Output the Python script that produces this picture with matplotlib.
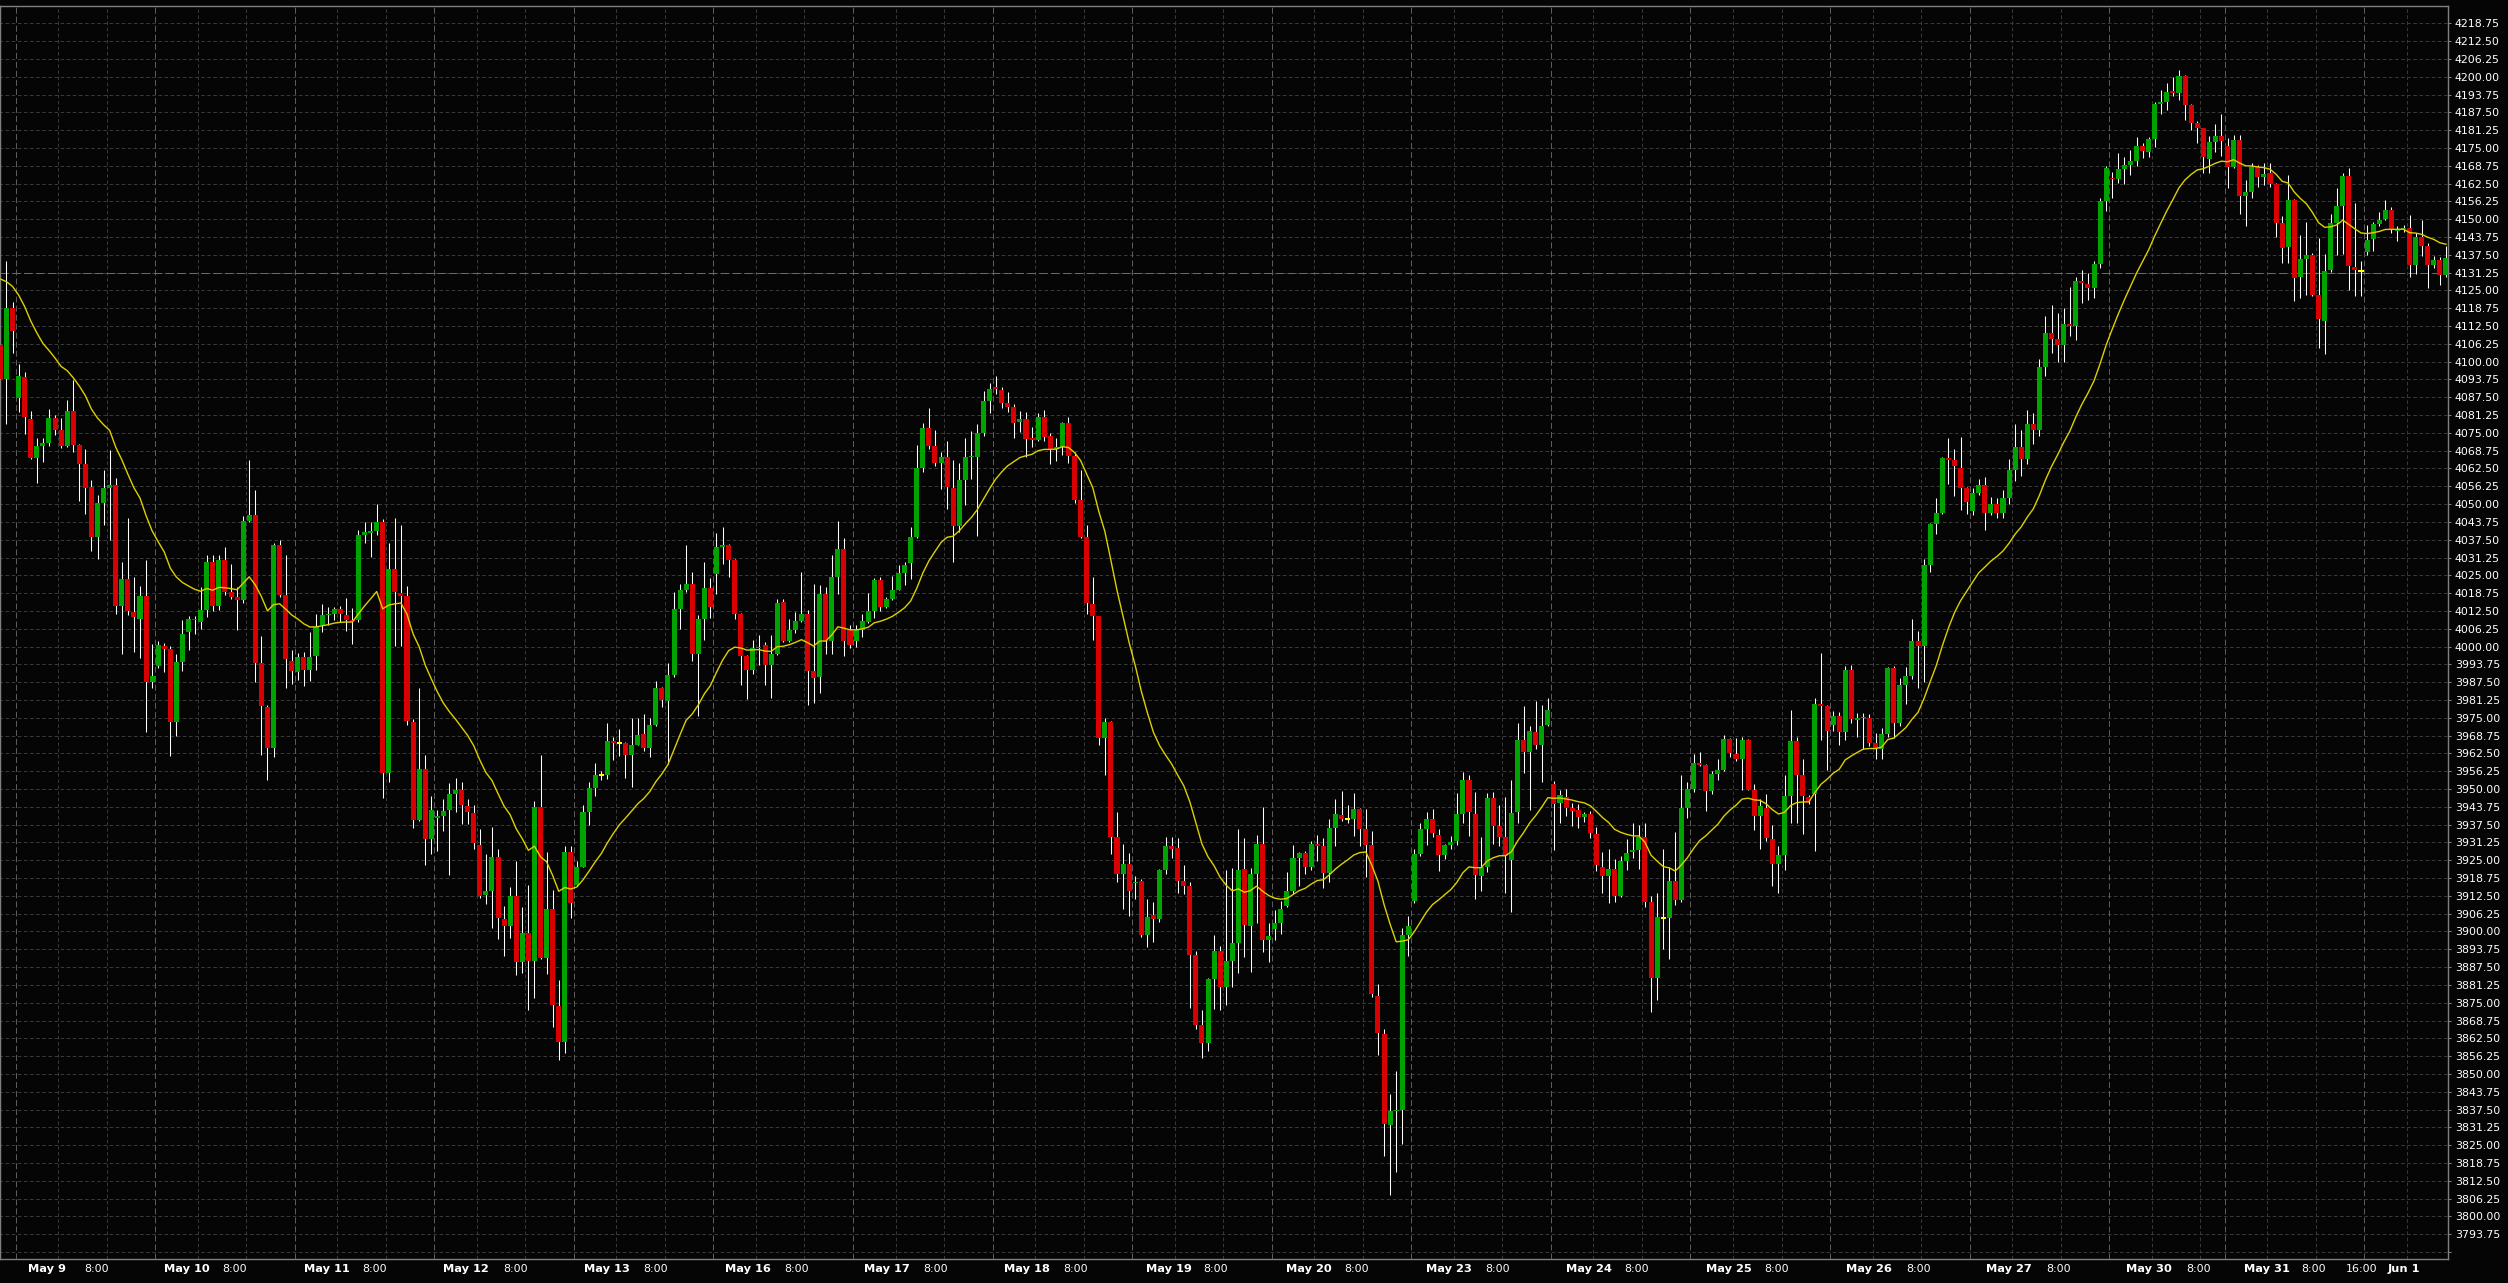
import numpy as np
import pandas as pd
import matplotlib
matplotlib.use("Agg")
import matplotlib.pyplot as plt
import matplotlib.transforms as mtransforms

# Velas horarias (barra 0 = primera vela visible a la izquierda)
opens = [
    4105.8, 4094.0, 4119.0, 4087.2, 4094.6, 4079.9, 4066.3, 4070.5, 4071.5, 4080.3,
    4075.9, 4070.4, 4082.8, 4070.7, 4063.9, 4056.0, 4038.6, 4050.4, 4055.7, 4056.8,
    4014.2, 4023.7, 4012.0, 4009.8, 4017.9, 3987.4, 3993.3, 4000.1, 3999.1, 3973.4,
    3994.7, 4005.0, 4009.8, 4008.7, 4012.9, 4029.6, 4014.2, 4030.5, 4019.2, 4017.5,
    4016.2, 4043.9, 4046.1, 3994.2, 3978.9, 3964.3, 4035.5, 4018.0, 3995.1, 3990.9,
    3996.4, 3991.8, 3996.7, 4007.4, 4011.1, 4011.4, 4013.3, 4011.1, 4009.4, 4009.2,
    4039.0, 4039.9, 4040.4, 4043.8, 3955.6, 4027.2, 4018.8, 4017.9, 3973.4, 3939.1,
    3957.1, 3932.3, 3940.0, 3940.4, 3942.8, 3948.3, 3949.8, 3944.1, 3941.5, 3930.5,
    3912.9, 3914.3, 3926.3, 3904.3, 3901.9, 3912.5, 3889.2, 3899.5, 3889.8, 3943.8,
    3890.8, 3907.9, 3873.9, 3861.2, 3927.8, 3916.4, 3922.8, 3941.9, 3950.2, 3954.8,
    3954.8, 3966.8, 3966.3, 3966.3, 3962.0, 3965.6, 3969.3, 3964.4, 3972.5, 3985.4,
    3981.0, 3989.9, 4013.1, 4019.7, 4021.8, 3997.5, 4009.5, 4020.5, 4025.3, 4035.0,
    4035.5, 4030.5, 4011.5, 3996.7, 3991.8, 3999.4, 4000.4, 3993.4, 3997.5, 4015.5,
    4001.9, 4005.8, 4009.1, 4011.6, 3991.3, 3989.4, 4018.4, 4001.9, 4024.4, 4034.2,
    4006.3, 4001.9, 4005.8, 4008.7, 4012.4, 4023.2, 4014.0, 4016.8, 4020.0, 4025.7,
    4029.2, 4038.5, 4062.7, 4076.7, 4070.5, 4064.6, 4066.4, 4055.5, 4042.2, 4058.4,
    4066.4, 4066.7, 4074.8, 4086.1, 4091.1, 4090.2, 4085.6, 4084.1, 4078.9, 4080.0,
    4073.1, 4072.6, 4080.7, 4073.9, 4069.2, 4070.1, 4078.5, 4067.0, 4051.6, 4038.4,
    4014.8, 4010.7, 3968.0, 3973.5, 3933.2, 3920.2, 3923.7, 3916.9, 3917.8, 3898.7,
    3905.7, 3904.3, 3921.5, 3929.9, 3929.3, 3917.8, 3915.9, 3891.8, 3867.3, 3860.7,
    3883.4, 3893.1, 3880.6, 3889.5, 3896.0, 3921.9, 3902.0, 3920.0, 3930.8, 3897.0,
    3900.7, 3902.9, 3908.9, 3914.1, 3925.8, 3927.5, 3922.8, 3930.8, 3929.9, 3920.6,
    3936.4, 3941.0, 3939.5, 3939.5, 3942.9, 3935.8, 3930.4, 3877.5, 3863.9, 3832.0,
    3837.0, 3837.5, 3898.7, 3910.7, 3927.1, 3935.8, 3939.5, 3934.0, 3926.7, 3930.5,
    3931.7, 3941.4, 3953.1, 3941.4, 3919.6, 3922.5, 3946.8, 3936.9, 3933.2, 3925.0,
    3941.8, 3967.2, 3963.0, 3970.0, 3965.5, 3972.5, 3951.8, 3945.2, 3947.3, 3943.2,
    3942.8, 3940.2, 3941.2, 3934.1, 3922.5, 3919.6, 3922.0, 3912.5, 3924.9, 3927.9,
    3928.6, 3933.2, 3910.4, 3883.5, 3904.6, 3904.6, 3917.8, 3910.9, 3943.5, 3950.1,
    3959.2, 3958.6, 3949.3, 3955.1, 3956.8, 3967.7, 3962.2, 3960.4, 3967.2, 3949.8,
    3940.4, 3943.5, 3932.4, 3923.8, 3926.9, 3947.6, 3966.9, 3954.8, 3947.3, 3948.1,
    3979.9, 3979.1, 3972.6, 3975.5, 3970.0, 3991.9, 3974.3, 3974.9, 3975.1, 3966.0,
    3964.2, 3969.2, 3992.5, 3973.3, 3986.6, 3989.5, 4001.9, 4000.3, 4028.5, 4042.9,
    4047.0, 4066.1, 4065.6, 4062.7, 4055.8, 4047.5, 4053.8, 4056.6, 4047.0, 4050.0,
    4047.0, 4052.0, 4062.0, 4070.0, 4066.0, 4078.0, 4076.0, 4098.0, 4110.0, 4108.0,
    4106.0, 4113.2, 4112.6, 4128.3, 4127.3, 4126.0, 4134.3, 4156.4, 4164.6, 4164.1,
    4167.6, 4169.0, 4170.4, 4175.7, 4173.7, 4178.1, 4190.4, 4191.0, 4195.0, 4194.4,
    4200.3, 4190.1, 4183.6, 4181.9, 4171.1, 4177.1, 4179.2, 4175.7, 4168.2, 4177.8,
    4158.3, 4159.6, 4168.2, 4164.7, 4166.1, 4162.4, 4148.8, 4140.4, 4156.9, 4129.8,
    4136.0, 4137.4, 4123.4, 4114.4, 4132.2, 4148.6, 4154.8, 4165.2, 4133.1, 4131.8,
    4138.6, 4143.0, 4148.3, 4149.9, 4153.2, 4145.9, 4146.6, 4146.8, 4133.9, 4143.6,
    4140.6, 4133.9, 4135.7, 4130.4,
]
highs = [
    4112.2, 4135.2, 4120.8, 4099.2, 4096.4, 4082.6, 4073.1, 4073.1, 4083.4, 4081.2,
    4080.1, 4086.7, 4093.7, 4071.0, 4069.4, 4058.4, 4053.3, 4062.1, 4069.1, 4059.2,
    4029.6, 4045.2, 4024.5, 4021.2, 4030.3, 4001.0, 4002.1, 4001.2, 4000.1, 3997.3,
    4009.2, 4010.7, 4010.7, 4021.0, 4032.2, 4032.2, 4032.2, 4034.9, 4029.0, 4020.8,
    4045.9, 4065.4, 4054.9, 4003.7, 3979.5, 4036.4, 4037.3, 4032.2, 3998.8, 3997.9,
    3998.2, 4005.2, 4011.3, 4015.1, 4013.8, 4013.8, 4014.4, 4017.1, 4013.5, 4041.0,
    4043.8, 4043.8, 4050.2, 4044.7, 4036.4, 4045.2, 4042.5, 4021.2, 3974.7, 3985.4,
    3961.9, 3947.4, 3942.8, 3946.5, 3952.0, 3953.8, 3952.3, 3946.5, 3944.3, 3936.0,
    3927.2, 3936.7, 3929.0, 3908.8, 3915.6, 3924.9, 3908.5, 3916.4, 3945.9, 3962.0,
    3927.8, 3914.5, 3883.1, 3930.1, 3930.1, 3924.9, 3944.3, 3952.3, 3959.3, 3956.4,
    3973.3, 3968.1, 3971.2, 3966.5, 3974.9, 3974.9, 3976.5, 3974.9, 3987.8, 3985.7,
    3994.2, 4019.2, 4022.0, 4035.8, 4026.0, 4011.2, 4029.7, 4024.0, 4039.7, 4041.8,
    4036.1, 4030.8, 4011.8, 3997.0, 4002.3, 4004.2, 4001.5, 4004.2, 4016.8, 4016.8,
    4009.5, 4012.0, 4026.1, 4012.8, 4022.0, 4021.6, 4020.8, 4032.1, 4043.9, 4038.1,
    4007.4, 4007.4, 4011.6, 4018.9, 4024.2, 4024.4, 4017.3, 4024.8, 4028.6, 4029.7,
    4041.8, 4070.8, 4078.4, 4083.7, 4076.1, 4068.4, 4072.1, 4065.4, 4064.3, 4073.2,
    4075.6, 4078.0, 4089.6, 4092.5, 4094.9, 4091.0, 4089.3, 4085.0, 4082.8, 4082.2,
    4077.0, 4081.8, 4083.1, 4074.8, 4073.3, 4078.7, 4080.7, 4068.3, 4061.8, 4042.8,
    4024.5, 4010.9, 3975.0, 3973.7, 3941.9, 3930.8, 3927.5, 3919.6, 3918.3, 3911.3,
    3910.4, 3921.9, 3933.2, 3933.2, 3932.7, 3923.4, 3917.2, 3893.3, 3872.3, 3883.8,
    3898.7, 3894.9, 3921.5, 3922.4, 3935.8, 3932.7, 3922.4, 3934.0, 3943.8, 3902.9,
    3907.6, 3910.7, 3921.0, 3930.2, 3928.0, 3928.4, 3931.7, 3934.0, 3932.7, 3939.5,
    3946.6, 3949.4, 3944.4, 3948.5, 3943.2, 3942.9, 3935.4, 3881.6, 3865.8, 3842.9,
    3850.9, 3901.1, 3905.3, 3928.9, 3938.2, 3941.9, 3942.9, 3935.8, 3930.8, 3933.6,
    3948.5, 3955.9, 3954.9, 3948.8, 3933.2, 3948.5, 3949.0, 3944.5, 3947.3, 3953.1,
    3973.3, 3979.1, 3972.2, 3980.8, 3979.6, 3982.1, 3952.8, 3949.5, 3950.1, 3945.2,
    3944.8, 3941.8, 3942.4, 3936.5, 3927.9, 3929.1, 3925.3, 3926.6, 3932.4, 3938.2,
    3937.4, 3938.2, 3912.5, 3913.4, 3929.1, 3922.5, 3934.9, 3954.8, 3952.3, 3962.2,
    3963.0, 3958.8, 3956.4, 3960.6, 3968.8, 3968.0, 3968.0, 3968.3, 3967.7, 3951.8,
    3946.5, 3948.1, 3937.4, 3929.9, 3954.8, 3977.6, 3968.3, 3960.6, 3947.8, 3982.1,
    3997.8, 3979.6, 3977.5, 3977.1, 3993.2, 3993.7, 3976.6, 3976.6, 3976.3, 3969.7,
    3971.3, 3992.9, 3993.2, 3989.0, 3992.9, 4009.8, 4005.3, 4030.6, 4043.4, 4052.2,
    4066.6, 4073.2, 4069.4, 4073.5, 4056.0, 4055.8, 4058.8, 4059.4, 4052.5, 4052.2,
    4055.0, 4066.0, 4078.0, 4076.0, 4083.0, 4082.0, 4101.0, 4116.0, 4120.0, 4117.0,
    4118.7, 4126.3, 4129.8, 4132.2, 4131.0, 4135.4, 4157.3, 4168.7, 4166.7, 4173.1,
    4171.7, 4174.3, 4178.7, 4176.9, 4179.0, 4191.0, 4195.3, 4197.7, 4200.0, 4202.4,
    4200.6, 4190.3, 4184.6, 4182.1, 4179.3, 4183.4, 4186.9, 4178.4, 4179.6, 4179.6,
    4163.8, 4169.6, 4169.0, 4169.6, 4169.6, 4162.8, 4151.1, 4165.5, 4157.1, 4144.5,
    4149.1, 4138.0, 4143.3, 4137.8, 4151.8, 4160.8, 4166.3, 4167.9, 4155.6, 4135.4,
    4148.0, 4149.1, 4152.6, 4156.7, 4154.4, 4147.6, 4148.0, 4151.5, 4145.0, 4149.7,
    4141.5, 4137.1, 4136.8, 4140.6,
]
lows = [
    4082.3, 4078.1, 4102.9, 4082.3, 4074.6, 4065.8, 4057.5, 4064.9, 4070.4, 4074.4,
    4069.8, 4070.0, 4068.3, 4051.1, 4046.5, 4033.7, 4030.9, 4042.5, 4037.3, 4011.3,
    3997.3, 4011.1, 3998.0, 3996.0, 3969.9, 3985.4, 3992.4, 3990.9, 3961.7, 3968.5,
    3991.4, 3998.8, 4004.3, 4006.1, 4010.2, 4012.5, 4012.9, 4018.1, 4016.8, 4005.9,
    4015.3, 4043.8, 3987.6, 3962.1, 3953.3, 3961.2, 4017.5, 3985.4, 3986.8, 3988.3,
    3986.3, 3987.8, 3991.8, 4005.2, 4007.4, 4009.2, 4008.5, 4005.6, 4001.0, 4008.5,
    4036.4, 4031.3, 4039.2, 3947.0, 3952.3, 4000.1, 4000.2, 3972.5, 3936.4, 3938.8,
    3923.5, 3927.2, 3928.1, 3935.1, 3919.9, 3941.9, 3937.7, 3937.8, 3929.0, 3911.6,
    3909.8, 3901.1, 3897.3, 3891.4, 3897.6, 3884.7, 3885.5, 3872.6, 3876.6, 3890.3,
    3885.0, 3866.6, 3854.9, 3857.3, 3904.8, 3916.1, 3922.5, 3937.5, 3947.5, 3953.1,
    3953.6, 3960.1, 3961.7, 3953.9, 3950.7, 3965.4, 3963.3, 3961.2, 3972.0, 3978.9,
    3958.8, 3989.4, 4006.3, 4019.2, 3995.0, 3975.7, 4002.3, 4010.0, 4018.4, 4028.9,
    4024.5, 4009.5, 3986.5, 3981.7, 3990.2, 3993.4, 3986.5, 3982.1, 3997.2, 4001.6,
    4001.5, 4004.7, 4008.7, 3979.4, 3980.1, 3983.8, 3997.5, 3997.5, 4018.4, 3996.7,
    3999.4, 3999.9, 4003.4, 4008.4, 4010.0, 4012.4, 4013.6, 4016.5, 4019.7, 4021.6,
    4023.6, 4038.2, 4061.1, 4069.2, 4063.5, 4055.2, 4048.2, 4029.7, 4040.2, 4049.8,
    4058.7, 4038.9, 4074.0, 4082.1, 4088.7, 4083.7, 4082.2, 4073.3, 4075.3, 4066.4,
    4070.1, 4072.0, 4072.0, 4064.0, 4065.1, 4067.4, 4064.6, 4050.3, 4038.0, 4011.6,
    4002.3, 3965.5, 3954.9, 3927.1, 3917.2, 3907.9, 3905.3, 3911.3, 3897.9, 3894.6,
    3896.4, 3903.5, 3920.2, 3925.8, 3913.5, 3913.2, 3873.2, 3865.8, 3855.5, 3857.9,
    3872.7, 3872.3, 3874.1, 3880.6, 3885.3, 3890.9, 3885.7, 3902.9, 3892.7, 3889.4,
    3897.0, 3899.2, 3908.5, 3913.2, 3915.9, 3920.0, 3921.5, 3924.7, 3915.4, 3917.2,
    3929.9, 3938.8, 3938.2, 3933.6, 3929.9, 3919.1, 3876.9, 3856.5, 3821.2, 3807.6,
    3815.6, 3825.5, 3891.4, 3910.0, 3926.5, 3930.2, 3933.2, 3921.1, 3925.3, 3928.9,
    3930.2, 3938.2, 3933.6, 3911.3, 3914.2, 3920.8, 3930.7, 3929.9, 3913.4, 3906.7,
    3937.9, 3955.6, 3942.8, 3963.9, 3952.3, 3972.2, 3928.6, 3938.2, 3940.7, 3936.9,
    3936.2, 3938.5, 3932.9, 3921.3, 3913.4, 3910.0, 3910.4, 3912.0, 3921.6, 3925.8,
    3922.0, 3908.7, 3871.9, 3876.1, 3893.8, 3890.2, 3909.2, 3910.4, 3939.8, 3949.0,
    3958.0, 3942.4, 3948.1, 3953.1, 3956.4, 3961.1, 3959.7, 3949.5, 3949.5, 3935.7,
    3929.1, 3931.6, 3915.8, 3913.4, 3921.6, 3937.9, 3937.9, 3934.1, 3944.8, 3928.3,
    3967.2, 3956.7, 3970.5, 3965.5, 3967.2, 3973.0, 3968.3, 3963.9, 3965.2, 3960.6,
    3960.6, 3968.3, 3968.0, 3972.2, 3979.9, 3988.7, 3985.4, 3987.6, 4026.3, 4039.6,
    4046.7, 4057.1, 4052.8, 4047.8, 4046.7, 4046.3, 4053.3, 4040.9, 4046.2, 4045.0,
    4045.0, 4050.0, 4058.0, 4060.0, 4064.0, 4071.0, 4074.0, 4095.0, 4103.0, 4100.0,
    4100.0, 4109.0, 4107.6, 4120.7, 4121.6, 4122.5, 4132.8, 4153.0, 4157.3, 4162.6,
    4162.4, 4165.5, 4168.5, 4171.4, 4171.9, 4175.5, 4186.8, 4188.3, 4193.2, 4191.8,
    4184.8, 4181.3, 4176.9, 4166.3, 4166.3, 4173.7, 4172.2, 4161.1, 4167.9, 4151.8,
    4147.7, 4157.3, 4161.4, 4162.0, 4161.4, 4143.6, 4134.5, 4134.5, 4121.4, 4122.5,
    4123.4, 4123.2, 4104.9, 4102.6, 4131.5, 4137.4, 4137.8, 4125.2, 4123.2, 4123.2,
    4137.4, 4139.0, 4147.6, 4149.7, 4145.3, 4142.5, 4145.6, 4129.8, 4130.8, 4137.1,
    4125.8, 4132.8, 4126.9, 4129.8,
]
closes = [
    4094.0, 4119.0, 4110.7, 4094.8, 4080.5, 4066.3, 4070.5, 4071.5, 4080.3, 4075.9,
    4070.4, 4082.8, 4070.7, 4063.9, 4055.7, 4038.6, 4050.4, 4055.7, 4056.8, 4014.2,
    4023.7, 4012.4, 4010.2, 4017.9, 3987.4, 3989.6, 4000.6, 3999.1, 3973.4, 3994.7,
    4004.5, 4009.6, 4009.2, 4012.7, 4029.6, 4014.2, 4030.3, 4019.2, 4017.5, 4016.2,
    4043.9, 4046.1, 3994.2, 3979.3, 3964.3, 4035.5, 4018.0, 3995.5, 3991.4, 3996.4,
    3991.8, 3996.4, 4007.0, 4011.1, 4011.4, 4013.3, 4011.4, 4009.4, 4008.9, 4039.0,
    4040.1, 4040.4, 4043.8, 3955.6, 4027.2, 4019.0, 4017.9, 3974.0, 3939.1, 3957.1,
    3932.3, 3942.8, 3940.6, 3942.4, 3948.3, 3949.8, 3944.3, 3941.9, 3930.9, 3912.5,
    3914.3, 3926.3, 3904.6, 3901.9, 3912.5, 3889.2, 3899.5, 3889.8, 3943.8, 3890.8,
    3907.9, 3874.2, 3861.2, 3927.8, 3910.1, 3922.5, 3941.9, 3950.2, 3954.8, 3954.8,
    3966.8, 3966.3, 3966.3, 3962.0, 3965.6, 3968.8, 3964.4, 3972.5, 3985.4, 3981.3,
    3989.9, 4013.1, 4019.7, 4021.8, 3997.5, 4009.5, 4020.5, 4014.0, 4035.0, 4035.5,
    4030.5, 4011.5, 3996.7, 3991.8, 3999.4, 3999.9, 3993.4, 3997.5, 4015.2, 4001.9,
    4005.8, 4009.1, 4011.6, 3991.3, 3989.1, 4018.4, 4001.9, 4024.4, 4034.2, 4001.9,
    4000.4, 4005.8, 4009.1, 4012.4, 4023.2, 4014.0, 4016.8, 4020.0, 4025.7, 4028.6,
    4038.5, 4062.7, 4076.7, 4070.5, 4064.6, 4066.7, 4055.9, 4042.2, 4058.4, 4066.4,
    4066.7, 4074.8, 4086.1, 4090.3, 4090.4, 4085.6, 4084.1, 4078.5, 4080.0, 4072.9,
    4072.4, 4080.7, 4073.5, 4069.2, 4070.1, 4078.5, 4067.0, 4051.6, 4038.4, 4015.3,
    4010.7, 3968.0, 3973.5, 3933.2, 3920.2, 3923.7, 3914.1, 3917.4, 3898.7, 3905.2,
    3904.3, 3921.5, 3929.9, 3928.9, 3917.8, 3915.9, 3891.8, 3867.3, 3860.7, 3883.4,
    3893.1, 3880.6, 3889.5, 3896.0, 3921.5, 3902.4, 3920.0, 3930.8, 3897.0, 3898.3,
    3902.9, 3907.9, 3914.1, 3925.8, 3927.5, 3922.8, 3930.8, 3929.9, 3920.6, 3936.4,
    3941.4, 3939.5, 3939.5, 3942.9, 3935.8, 3930.4, 3878.2, 3864.5, 3832.3, 3837.0,
    3837.5, 3898.7, 3902.0, 3927.1, 3935.8, 3939.5, 3934.5, 3926.7, 3930.2, 3931.4,
    3941.4, 3953.1, 3941.9, 3919.7, 3922.5, 3946.8, 3936.9, 3933.2, 3926.6, 3941.5,
    3967.2, 3963.0, 3970.2, 3965.5, 3972.2, 3977.9, 3944.8, 3947.8, 3943.2, 3942.4,
    3940.2, 3941.2, 3934.6, 3923.3, 3919.6, 3922.0, 3912.5, 3924.9, 3927.4, 3928.6,
    3933.2, 3910.4, 3883.5, 3905.1, 3904.6, 3917.8, 3910.9, 3943.5, 3950.1, 3959.2,
    3958.6, 3949.3, 3955.1, 3956.8, 3967.7, 3962.7, 3960.4, 3967.2, 3949.8, 3940.7,
    3944.0, 3932.7, 3923.8, 3926.9, 3947.6, 3966.9, 3954.8, 3947.6, 3945.7, 3979.9,
    3979.1, 3970.2, 3975.5, 3970.0, 3991.9, 3974.6, 3974.9, 3975.1, 3966.0, 3964.2,
    3969.2, 3992.5, 3973.3, 3986.6, 3989.5, 4001.9, 4000.3, 4028.5, 4042.9, 4047.0,
    4066.1, 4065.6, 4063.2, 4055.8, 4050.8, 4053.8, 4056.6, 4047.0, 4050.0, 4047.0,
    4052.0, 4062.0, 4070.0, 4066.0, 4078.0, 4076.0, 4098.0, 4110.0, 4108.0, 4106.0,
    4113.2, 4112.6, 4128.3, 4127.5, 4126.0, 4134.3, 4156.4, 4168.1, 4164.0, 4167.6,
    4169.0, 4170.4, 4175.7, 4174.1, 4178.1, 4190.4, 4191.0, 4194.5, 4194.4, 4200.3,
    4190.1, 4183.9, 4182.1, 4171.9, 4177.1, 4179.2, 4177.4, 4168.2, 4177.8, 4158.3,
    4159.6, 4168.2, 4164.9, 4165.9, 4162.4, 4148.8, 4140.0, 4156.7, 4129.5, 4136.0,
    4137.4, 4123.4, 4114.9, 4131.8, 4148.6, 4154.8, 4165.2, 4133.4, 4132.2, 4131.8,
    4142.7, 4148.3, 4149.7, 4153.2, 4146.6, 4146.6, 4146.8, 4133.9, 4143.6, 4140.6,
    4133.9, 4135.7, 4130.4, 4136.5,
]

# media movil (EMA 20) y su valor en la primera vela visible
periodo_ma = 20
ma_inicio = 4129.0

# primera vela de cada sesion
inicio_sesion = [3, 26, 49, 72, 95, 118, 141, 164, 187, 210, 233, 256, 279, 302, 325, 348, 367, 390]

# etiquetas del eje de tiempo (posicion en velas)
etiquetas_fecha = [(4.5, "May 9"), (26.9, "May 10"), (50.0, "May 11"), (73.0, "May 12"),
                   (96.2, "May 13"), (119.4, "May 16"), (142.3, "May 17"), (165.4, "May 18"),
                   (188.7, "May 19"), (211.8, "May 20"), (234.9, "May 23"), (258.0, "May 24"),
                   (281.0, "May 25"), (304.2, "May 26"), (327.2, "May 27"), (350.3, "May 30"),
                   (369.7, "May 31"), (393.4, "Jun 1")]
etiquetas_hora = [(13.8, "8:00"), (36.5, "8:00"), (59.7, "8:00"), (82.8, "8:00"),
                  (105.9, "8:00"), (129.1, "8:00"), (152.1, "8:00"), (175.2, "8:00"),
                  (198.2, "8:00"), (221.5, "8:00"), (244.6, "8:00"), (267.6, "8:00"),
                  (290.7, "8:00"), (314.0, "8:00"), (337.1, "8:00"), (360.2, "8:00"),
                  (379.2, "8:00"), (386.5, "16:00")]

precio_linea = 4131.25
niveles = np.arange(3787.5, 4219.0, 6.25)

plt.rcParams['font.family'] = ['DejaVu Sans']
plt.rcParams['lines.scale_dashes'] = False

fondo = '#050505'
verde = '#00a400'
rojo = '#d80000'
gris_eje = '#808080'

o = np.array(opens)
h = np.array(highs)
l = np.array(lows)
c = np.array(closes)
x = np.arange(len(c))

fig = plt.figure(figsize=(25.08, 12.83), dpi=100, facecolor=fondo)
ax = fig.add_axes([0.0, 1 - 1259 / 1283, 2448 / 2508, 1253 / 1283])
ax.set_facecolor(fondo)
ax.set_xlim(-0.07, 403.33)
ax.set_ylim(3785.05, 4224.82)

# rejilla horizontal
ax.hlines(niveles, -1, 405, colors='#383838', linewidth=0.72, linestyles=[(0, (2.6, 1.8))], zorder=0)
# separadores de sesion y lineas de 8:00 / 16:00
fin_sesion = inicio_sesion[1:] + [len(c)]
for ini, fin in zip(inicio_sesion, fin_sesion):
    ax.axvline(ini - 0.5, color='#5c5c5c', linewidth=0.72, linestyle=(0, (4.3, 2.2)), zorder=0)
    for off in (7, 15):
        if ini + off < fin:
            ax.axvline(ini + off - 0.5, color='#383838', linewidth=0.72, linestyle=(0, (2.6, 1.8)), zorder=0)
ax.axhline(precio_linea, color='#6a6a6a', linewidth=0.72, linestyle=(0, (6, 2.5)), zorder=1)

# velas
ax.vlines(x, l, h, colors='white', linewidth=0.75, zorder=2)
cuerpo = np.maximum(np.abs(c - o), 0.35)
colores = np.where(c > o, verde, rojo)
es_doji = c == o
ax.bar(x[~es_doji], cuerpo[~es_doji], bottom=np.minimum(o, c)[~es_doji], width=0.83,
       color=colores[~es_doji], linewidth=0, zorder=3)
ax.hlines(c[es_doji], x[es_doji] - 0.42, x[es_doji] + 0.42, colors='#ffff00', linewidth=1.5, zorder=3)

# media movil exponencial
serie = pd.Series([ma_inicio] + closes[1:])
ma = serie.ewm(span=periodo_ma, adjust=False).mean()
ax.plot(x, ma, color='#dcd000', linewidth=1.0, zorder=4)

# ejes
for lado in ('top', 'right', 'bottom', 'left'):
    ax.spines[lado].set_color(gris_eje)
    ax.spines[lado].set_linewidth(1.0)
ax.set_xticks([])
ax.yaxis.tick_right()
ax.set_yticks(niveles)
ax.set_yticklabels([f"{v:.2f}" if v > 3790 else "" for v in niveles])
ax.tick_params(axis='y', colors=gris_eje, labelcolor='white', length=2.4, width=0.72,
               pad=2.5, labelsize=7.9)

trans = mtransforms.blended_transform_factory(ax.transData, fig.transFigure)
y_texto = 1 - 1272.5 / 1283
for pos, txt in etiquetas_fecha:
    ax.text(pos, y_texto, txt, transform=trans, color='white', fontsize=8.2,
            fontweight='bold', ha='left', va='baseline', clip_on=False)
for pos, txt in etiquetas_hora:
    ax.text(pos, y_texto, txt, transform=trans, color='white', fontsize=7.9,
            ha='left', va='baseline', clip_on=False)

fig.savefig('out.png', dpi=100, facecolor=fondo)
